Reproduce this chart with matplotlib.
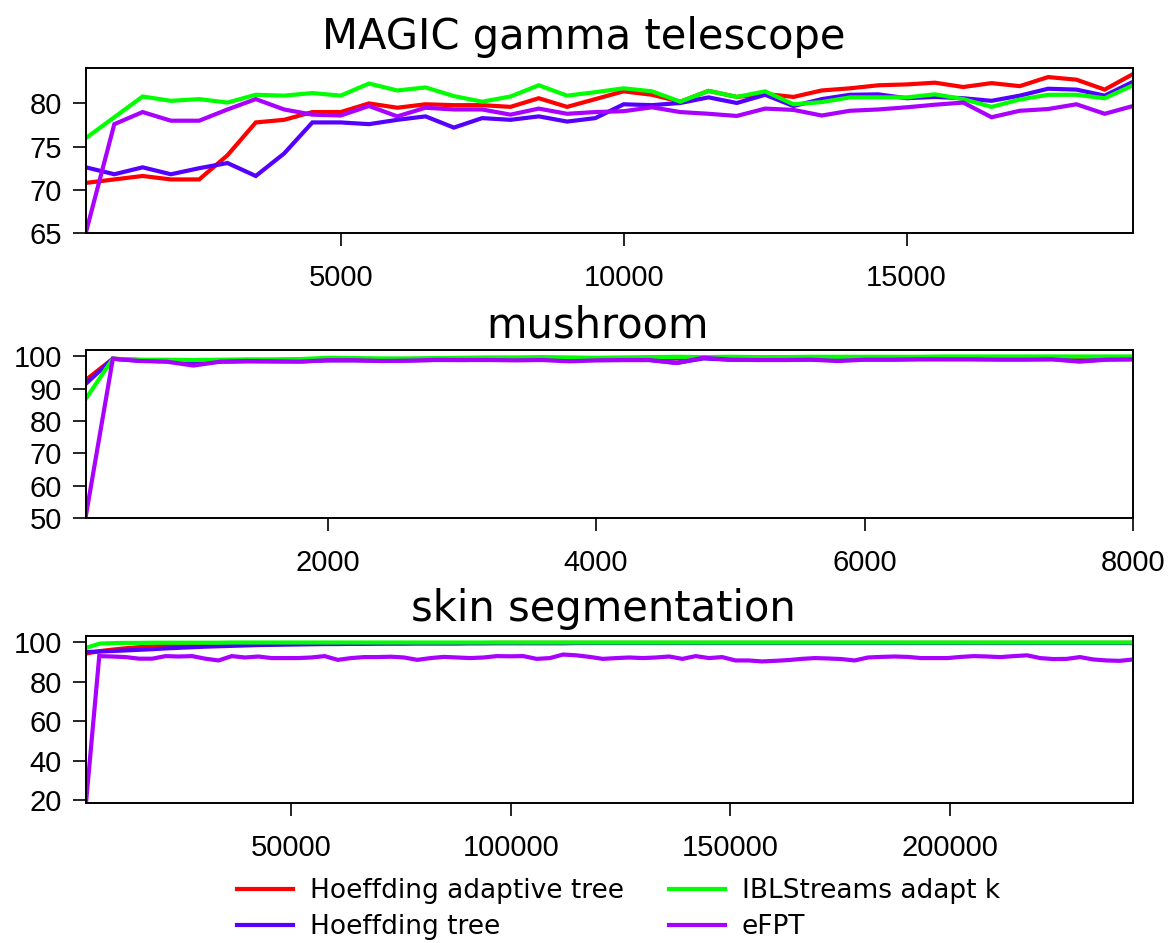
import numpy as np
import matplotlib
matplotlib.use("Agg")
import matplotlib.pyplot as plt

# ---------------- data ----------------
series_names = ["Hoeffding adaptive tree", "Hoeffding tree", "IBLStreams adapt k", "eFPT"]
series_colors = ["#FF0000", "#5500FF", "#00FF00", "#AA00FF"]

# MAGIC gamma telescope
magic_x = np.arange(1, 39) * 500
magic_hat = [70.8, 71.2, 71.6, 71.2, 71.2, 74.0, 77.8, 78.1, 79.0, 79.0,
             80.0, 79.5, 79.9, 79.8, 79.8, 79.6, 80.6, 79.6, 80.5, 81.4,
             81.0, 80.2, 81.45, 80.75, 81.1, 80.75, 81.5, 81.75, 82.1, 82.2,
             82.4, 81.9, 82.35, 82.0, 83.05, 82.75, 81.6, 83.4]
magic_ht = [72.6, 71.8, 72.6, 71.8, 72.5, 73.1, 71.6, 74.2, 77.8, 77.8,
            77.6, 78.1, 78.5, 77.2, 78.3, 78.1, 78.5, 77.9, 78.3, 79.9,
            79.8, 80.05, 80.7, 80.05, 81.0, 79.7, 80.5, 81.0, 81.05, 80.6,
            80.75, 80.6, 80.3, 80.9, 81.7, 81.6, 80.9, 82.5]
magic_ibl = [76.0, 78.4, 80.8, 80.3, 80.5, 80.1, 81.0, 80.9, 81.2, 80.9,
             82.3, 81.5, 81.85, 80.85, 80.2, 80.8, 82.1, 80.9, 81.3, 81.75,
             81.4, 80.2, 81.45, 80.75, 81.4, 79.9, 80.15, 80.7, 80.7, 80.7,
             81.05, 80.5, 79.6, 80.45, 81.0, 81.0, 80.6, 82.1]
magic_efpt = [65.1, 77.6, 79.0, 78.0, 78.0, 79.3, 80.5, 79.3, 78.7, 78.6,
              79.7, 78.5, 79.5, 79.3, 79.3, 78.7, 79.4, 78.8, 79.0, 79.1,
              79.55, 79.0, 78.8, 78.55, 79.4, 79.25, 78.6, 79.15, 79.3, 79.55,
              79.85, 80.1, 78.4, 79.15, 79.35, 79.9, 78.8, 79.7]

# mushroom
mush_x = np.arange(1, 41) * 200
mush_hat = [92.7, 99.2, 98.8, 98.7, 98.6, 98.7, 98.8, 98.8, 98.9, 99.1,
            99.1, 99.0, 99.1, 99.2, 99.3, 99.3, 99.3, 99.4, 99.3, 99.3,
            99.4, 99.4, 99.3, 99.5, 99.5, 99.5, 99.6, 99.5, 99.6, 99.6,
            99.6, 99.6, 99.7, 99.7, 99.7, 99.7, 99.6, 99.7, 99.7, 99.7]
mush_ht = [91.5, 99.2, 98.6, 98.4, 97.6, 98.3, 98.4, 98.4, 98.4, 98.7,
           98.7, 98.6, 98.7, 98.8, 98.8, 98.9, 98.9, 98.9, 98.7, 98.8,
           98.8, 98.8, 97.9, 99.3, 98.9, 98.9, 99.0, 99.0, 98.7, 99.0,
           99.0, 99.1, 99.1, 99.1, 99.1, 99.1, 99.1, 98.5, 99.0, 99.1]
mush_ibl = [86.9, 99.2, 98.9, 98.9, 98.8, 98.9, 99.0, 99.0, 99.1, 99.5,
            99.4, 99.3, 99.3, 99.4, 99.5, 99.6, 99.6, 99.7, 99.6, 99.5,
            99.6, 99.7, 99.8, 99.7, 99.8, 99.7, 99.7, 99.8, 99.8, 99.8,
            99.8, 99.8, 99.9, 99.9, 99.9, 99.9, 99.9, 99.9, 99.9, 99.9]
mush_efpt = [50.9, 99.2, 98.5, 98.3, 97.1, 98.3, 98.5, 98.4, 98.3, 98.75,
             98.75, 98.5, 98.6, 98.85, 98.8, 98.8, 98.7, 98.8, 98.4, 98.7,
             98.8, 98.8, 97.9, 99.5, 98.9, 98.8, 98.8, 98.9, 98.5, 98.9,
             98.9, 99.0, 99.0, 99.0, 98.9, 98.9, 99.0, 98.3, 98.9, 99.0]

# skin segmentation
skin_x = np.arange(80) * 3020 + 3200
skin_hat = [94.3, 95.5, 96.3, 97.0, 97.5, 97.9, 98.2, 98.5, 98.7, 98.9,
            99.0, 99.1, 99.2, 99.3, 99.3, 99.4, 99.4, 99.4, 99.5, 99.5,
            99.5, 99.5, 99.5, 99.6, 99.6, 99.6, 99.6, 99.6, 99.6, 99.6,
            99.6, 99.7, 99.7, 99.7, 99.7, 99.7, 99.7, 99.7, 99.7, 99.7,
            99.7, 99.7, 99.7, 99.7, 99.7, 99.7, 99.7, 99.7, 99.7, 99.7,
            99.7, 99.7, 99.7, 99.7, 99.7, 99.7, 99.7, 99.7, 99.7, 99.7,
            99.7, 99.7, 99.7, 99.7, 99.7, 99.7, 99.7, 99.7, 99.7, 99.7,
            99.7, 99.7, 99.7, 99.7, 99.7, 99.7, 99.7, 99.7, 99.7, 99.7]
skin_ht = [95.1, 95.3, 95.6, 95.9, 96.2, 96.5, 96.9, 97.2, 97.5, 97.8,
           98.0, 98.2, 98.4, 98.6, 98.7, 98.8, 98.9, 99.0, 99.1, 99.1,
           99.2, 99.2, 99.3, 99.3, 99.3, 99.4, 99.4, 99.4, 99.4, 99.5,
           99.5, 99.5, 99.5, 99.5, 99.5, 99.5, 99.5, 99.6, 99.6, 99.6,
           99.6, 99.6, 99.6, 99.6, 99.6, 99.6, 99.6, 99.6, 99.6, 99.6,
           99.6, 99.6, 99.6, 99.6, 99.6, 99.6, 99.6, 99.6, 99.6, 99.6,
           99.6, 99.6, 99.6, 99.6, 99.6, 99.6, 99.6, 99.6, 99.6, 99.6,
           99.6, 99.6, 99.6, 99.6, 99.6, 99.6, 99.6, 99.6, 99.6, 99.6]
skin_ibl = [97.2, 99.3, 99.6, 99.7, 99.7, 99.8, 99.8, 99.8, 99.8, 99.8,
            99.8, 99.9, 99.9, 99.9, 99.9, 99.9, 99.9, 99.9, 99.9, 99.9,
            99.9, 99.9, 99.9, 99.9, 99.9, 99.9, 99.9, 99.9, 99.9, 99.9,
            99.9, 99.9, 99.9, 99.9, 99.9, 99.9, 99.9, 99.9, 99.9, 99.9,
            99.9, 99.9, 99.9, 99.9, 99.9, 99.9, 99.9, 99.9, 99.9, 99.9,
            99.9, 99.9, 99.9, 99.9, 99.9, 99.9, 99.9, 99.9, 99.9, 99.9,
            99.9, 99.9, 99.9, 99.9, 99.9, 99.9, 99.9, 99.9, 99.9, 99.9,
            99.9, 99.9, 99.9, 99.9, 99.9, 99.9, 99.9, 99.9, 99.9, 99.9]
skin_efpt = [18.5, 93.0, 92.8, 92.5, 91.7, 91.7, 93.0, 92.8, 93.0, 91.7,
             90.8, 93.0, 92.3, 92.8, 92.0, 92.0, 92.0, 92.3, 93.0, 91.1,
             92.0, 92.5, 92.5, 92.7, 92.3, 91.1, 92.0, 92.6, 92.3, 92.0,
             92.3, 93.0, 92.9, 93.0, 91.6, 92.0, 93.8, 93.4, 92.6, 91.6,
             92.0, 92.3, 92.0, 92.3, 92.8, 91.6, 93.0, 92.0, 92.5, 90.8,
             90.8, 90.3, 90.6, 91.0, 91.6, 92.0, 91.8, 91.5, 90.8, 92.3,
             92.6, 92.8, 92.6, 92.0, 92.0, 92.0, 92.6, 93.0, 92.8, 92.5,
             93.0, 93.4, 92.0, 91.5, 91.6, 92.5, 91.3, 90.8, 90.6, 91.3]

panels = [
    ("MAGIC gamma telescope", magic_x, [magic_hat, magic_ht, magic_ibl, magic_efpt],
     (65, 84.1), [65, 70, 75, 80], [5000, 10000, 15000]),
    ("mushroom", mush_x, [mush_hat, mush_ht, mush_ibl, mush_efpt],
     (50, 101.9), [50, 60, 70, 80, 90, 100], [2000, 4000, 6000, 8000]),
    ("skin segmentation", skin_x, [skin_hat, skin_ht, skin_ibl, skin_efpt],
     (18.5, 103.2), [20, 40, 60, 80, 100], [50000, 100000, 150000, 200000]),
]

# ---------------- layout ----------------
W, H = 1175, 943
fig = plt.figure(figsize=(W / 100, H / 100), dpi=100)
boxes = [(86, 68, 1133, 233), (86, 350, 1133, 518), (86, 636, 1133, 803)]
title_pads = [14, 9, 11]
title_cx = [584, 597, 603]

lines = []
for (title, xs, ys_list, ylim, yticks, xticks), (l, t, r, b), tp, tcx in zip(panels, boxes, title_pads, title_cx):
    ax = fig.add_axes([l / W, 1 - b / H, (r - l) / W, (b - t) / H])
    for ys, c in zip(ys_list, series_colors):
        ln, = ax.plot(xs, ys, color=c, lw=3.0, solid_joinstyle="miter")
        if len(lines) < 4:
            lines.append(ln)
    ax.set_xlim(xs[0], xs[-1])
    ax.set_ylim(*ylim)
    ax.set_yticks(yticks)
    ax.set_xticks(xticks)
    ax.set_xticklabels([str(v) for v in xticks], family="Liberation Sans", fontsize=21)
    ax.set_yticklabels([str(v) for v in yticks], family="Liberation Sans", fontsize=21)
    ax.tick_params(axis="both", direction="out", length=9.5, width=1.2, colors="black")
    ax.tick_params(axis="y", pad=8)
    ax.tick_params(axis="x", pad=13)
    for sp in ax.spines.values():
        sp.set_linewidth(1.4)
    ax.set_title(title, fontsize=30, family="DejaVu Sans", pad=tp,
                 x=(tcx - l) / (r - l))

fig.legend(lines, series_names, loc="center", bbox_to_anchor=(618.5 / W, 1 - 909 / H),
           ncol=2, frameon=False, prop={"family": "DejaVu Sans", "size": 19},
           handlelength=2.12, handletextpad=0.64, columnspacing=1.7, labelspacing=0.36)

fig.savefig("out.png", dpi=100)
